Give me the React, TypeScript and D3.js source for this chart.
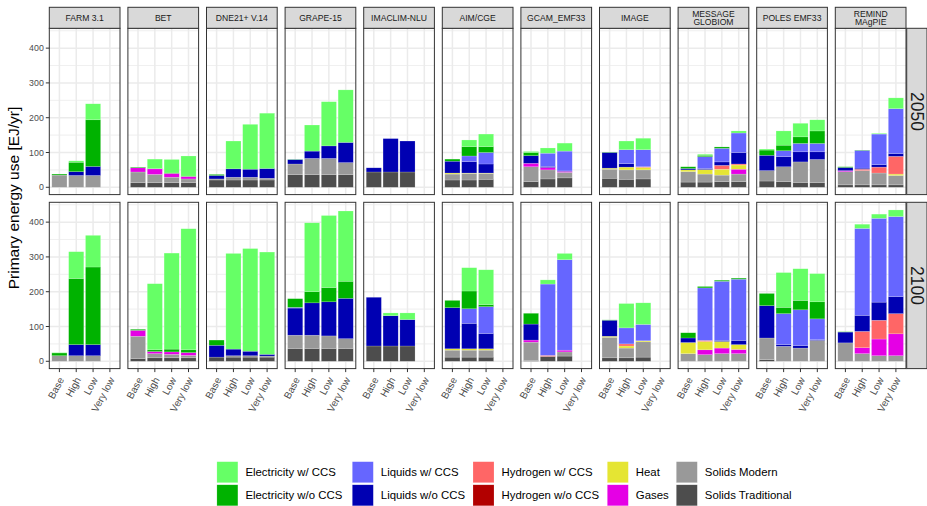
import React from 'react';
import * as d3 from 'd3';

const models = ['FARM 3.1', 'BET', 'DNE21+ V.14', 'GRAPE-15', 'IMACLIM-NLU', 'AIM/CGE', 'GCAM_EMF33', 'IMAGE', 'MESSAGE\nGLOBIOM', 'POLES EMF33', 'REMIND\nMAgPIE'];
const scenarios = ['Base', 'High', 'Low', 'Very low'];
const years = ['2050', '2100'];
const carriers = ['Electricity w/ CCS', 'Electricity w/o CCS', 'Liquids w/ CCS', 'Liquids w/o CCS', 'Hydrogen w/ CCS', 'Hydrogen w/o CCS', 'Heat', 'Gases', 'Solids Modern', 'Solids Traditional'];
const carrierColors = ['#66FF66', '#00B200', '#6666FF', '#0000B2', '#FF6666', '#B20000', '#E5E533', '#E500E5', '#999999', '#4D4D4D'];
const yTicks = [0, 100, 200, 300, 400];
const yMinor = [50, 150, 250, 350, 450];

// values: 11 models x 4 scenarios (Base, High, Low, Very low), EJ/yr
// ---- 2050 ----
const elecCCS2050 = [0, 4, 46, 0, 0, 27, 39, 58, 0, 80, 129, 159, 1, 75, 127, 151, 0, 0, 0, 0, 0, 19, 36, 0, 3, 15, 23, 0, 0, 25, 33, 0, 0, 3, 0, 6, 3, 41, 39, 32, 0, 0, 2, 31];
const elecNoCCS2050 = [3, 27, 134, 0, 2, 1, 1, 1, 3, 0, 0, 0, 0, 0, 0, 0, 0, 0, 0, 0, 6, 27, 17, 0, 9, 0, 0, 0, 1, 0, 0, 0, 5, 4, 4, 0, 15, 16, 19, 36, 2, 1, 0, 0];
const liqCCS2050 = [0, 0, 0, 0, 0, 0, 0, 0, 0, 0, 0, 0, 0, 0, 0, 0, 0, 0, 0, 0, 0, 16, 33, 0, 0, 38, 57, 0, 0, 40, 49, 0, 0, 34, 39, 56, 0, 17, 24, 24, 0, 51, 88, 129];
const liqNoCCS2050 = [0, 11, 26, 0, 0, 0, 0, 0, 10, 24, 23, 28, 13, 21, 36, 58, 12, 96, 89, 0, 34, 33, 26, 0, 22, 3, 1, 0, 45, 10, 0, 0, 4, 3, 10, 33, 44, 29, 29, 22, 9, 3, 7, 8];
const h2CCS2050 = [0, 0, 0, 0, 0, 0, 0, 0, 0, 0, 0, 0, 0, 0, 0, 0, 0, 0, 0, 0, 0, 0, 0, 0, 0, 0, 0, 0, 0, 0, 2, 0, 0, 0, 11, 3, 0, 0, 0, 0, 0, 4, 17, 51];
const h2NoCCS2050 = [0, 0, 0, 0, 0, 0, 0, 0, 0, 0, 0, 0, 0, 0, 0, 0, 0, 0, 0, 0, 0, 0, 0, 0, 0, 0, 0, 0, 0, 0, 0, 0, 0, 0, 0, 0, 0, 0, 0, 0, 0, 0, 0, 0];
const heat2050 = [0, 0, 0, 0, 0, 0, 0, 0, 0, 0, 0, 0, 0, 0, 0, 0, 0, 0, 0, 0, 3, 1, 1, 0, 0, 0, 0, 0, 3, 8, 7, 0, 5, 13, 17, 12, 0, 0, 0, 0, 0, 0, 0, 4];
const gases2050 = [0, 0, 0, 0, 12, 16, 11, 7, 0, 0, 0, 0, 0, 0, 0, 0, 0, 0, 0, 0, 0, 0, 0, 0, 10, 7, 3, 0, 0, 0, 0, 0, 0, 0, 0, 14, 0, 0, 0, 0, 3, 0, 0, 0];
const solidsMod2050 = [35, 34, 34, 0, 31, 24, 16, 11, 3, 8, 8, 5, 31, 47, 47, 35, 0, 0, 0, 0, 17, 19, 17, 0, 43, 26, 16, 0, 26, 27, 26, 0, 30, 23, 19, 22, 30, 43, 59, 67, 38, 41, 34, 27];
const solidsTrad2050 = [0, 0, 0, 0, 13, 13, 13, 13, 21, 21, 21, 21, 36, 36, 36, 36, 44, 44, 44, 0, 21, 21, 23, 0, 16, 24, 27, 0, 26, 23, 24, 0, 15, 15, 16, 16, 18, 16, 14, 13, 7, 7, 7, 7];
// ---- 2100 ----
const elecCCS2100 = [1, 77, 91, 0, 0, 190, 276, 348, 0, 275, 295, 294, 0, 198, 207, 202, 0, 8, 19, 0, 0, 67, 100, 0, 0, 12, 18, 0, 0, 70, 62, 0, 0, 0, 0, 0, 0, 100, 91, 81, 0, 12, 12, 19];
const elecNoCCS2100 = [8, 190, 223, 0, 3, 5, 8, 8, 15, 0, 0, 0, 25, 32, 41, 49, 0, 0, 0, 0, 21, 51, 6, 0, 31, 0, 0, 0, 1, 0, 0, 0, 15, 4, 3, 3, 35, 18, 27, 49, 1, 0, 0, 0];
const liqCCS2100 = [0, 0, 0, 0, 0, 0, 0, 0, 0, 0, 0, 0, 2, 0, 0, 0, 0, 0, 0, 0, 0, 42, 77, 0, 0, 205, 260, 0, 0, 46, 47, 0, 0, 151, 170, 176, 0, 89, 103, 60, 0, 250, 241, 230];
const liqNoCCS2100 = [0, 32, 32, 0, 0, 0, 0, 0, 34, 19, 13, 5, 78, 93, 98, 116, 140, 87, 76, 0, 118, 73, 44, 0, 46, 0, 0, 0, 46, 0, 0, 0, 13, 0, 3, 12, 93, 5, 7, 2, 31, 46, 52, 49];
const h2CCS2100 = [0, 0, 0, 0, 0, 0, 0, 0, 0, 0, 0, 0, 0, 0, 0, 0, 0, 0, 0, 0, 0, 0, 0, 0, 0, 3, 0, 0, 0, 6, 0, 0, 0, 3, 0, 0, 0, 0, 0, 0, 0, 47, 54, 58];
const h2NoCCS2100 = [0, 0, 0, 0, 0, 0, 0, 0, 0, 0, 0, 0, 0, 0, 0, 0, 0, 0, 0, 0, 0, 0, 0, 0, 0, 0, 0, 0, 0, 0, 0, 0, 0, 0, 0, 0, 0, 0, 0, 0, 0, 0, 0, 0];
const heat2100 = [0, 0, 0, 0, 0, 0, 0, 0, 0, 0, 0, 0, 0, 0, 0, 0, 0, 0, 0, 0, 4, 4, 4, 0, 0, 0, 0, 0, 3, 6, 3, 0, 32, 24, 19, 14, 0, 0, 0, 0, 0, 0, 0, 0];
const gases2100 = [0, 0, 0, 0, 17, 6, 7, 8, 0, 0, 0, 0, 0, 0, 0, 0, 0, 0, 0, 0, 0, 0, 0, 0, 6, 0, 5, 0, 0, 0, 0, 0, 0, 14, 16, 12, 0, 0, 0, 0, 0, 17, 48, 63];
const solidsMod2100 = [16, 16, 16, 0, 64, 12, 10, 7, 0, 4, 4, 3, 38, 38, 36, 28, 0, 0, 0, 0, 20, 20, 20, 0, 53, 0, 12, 0, 59, 28, 44, 0, 22, 19, 22, 22, 62, 43, 38, 60, 53, 22, 16, 16];
const solidsTrad2100 = [0, 0, 0, 0, 8, 10, 10, 10, 12, 12, 12, 12, 37, 37, 37, 37, 44, 44, 44, 0, 12, 12, 12, 0, 2, 14, 15, 0, 10, 10, 12, 0, 0, 0, 0, 0, 5, 0, 0, 0, 0, 0, 0, 0];

const seriesByYear: Record<string, number[][]> = {
  '2050': [elecCCS2050, elecNoCCS2050, liqCCS2050, liqNoCCS2050, h2CCS2050, h2NoCCS2050, heat2050, gases2050, solidsMod2050, solidsTrad2050],
  '2100': [elecCCS2100, elecNoCCS2100, liqCCS2100, liqNoCCS2100, h2CCS2100, h2NoCCS2100, heat2100, gases2100, solidsMod2100, solidsTrad2100],
};

const FONT = '"Liberation Sans", Arial, Helvetica, sans-serif';

export default function App() {
  const W = 927, H = 506;
  const panelX0 = 49.3, panelW = 70.7, panelStep = 78.6;
  const stripTop = 7.3, stripH = 21;
  const rowTop = [28.3, 202.3];
  const panelH = 166.3;
  const rightStripX = 906.7, rightStripW = 20.3;

  const x = d3.scaleBand<string>().domain(scenarios).range([0, panelW]).paddingInner(0.1).paddingOuter(0.15);
  const yScales = rowTop.map(t => d3.scaleLinear().domain([-21, 457]).range([t + panelH, t]));
  const stackKeys = [...carriers].reverse();
  const colorOf = d3.scaleOrdinal<string, string>().domain(carriers).range(carrierColors);

  const stacked = years.map(yr => {
    const vals = seriesByYear[yr];
    const rows = models.flatMap((m, mi) => scenarios.map((s, si) => {
      const r: any = { mi, scenario: s };
      carriers.forEach((c, ci) => { r[c] = vals[ci][mi * 4 + si]; });
      return r;
    }));
    return d3.stack<any>().keys(stackKeys)(rows);
  });

  const legendCols = [216.9, 352.3, 473, 607.3, 676.3];
  const legendRows = [461.7, 484.8];
  const keySize = 21;

  return (
    <svg width={W} height={H} style={{ position: 'absolute', left: 0, top: 0, background: '#fff' }} fontFamily={FONT}>
      <rect x={0} y={0} width={W} height={H} fill="#fff" />
      {/* y axis title */}
      <text transform={`translate(13,198) rotate(-90)`} textAnchor="middle" dominantBaseline="central" fontSize={15.5} fill="#000">Primary energy use [EJ/yr]</text>

      {years.map((yr, ri) => {
        const y = yScales[ri];
        const top = rowTop[ri];
        return (
          <g key={yr}>
            {models.map((m, mi) => {
              const px = panelX0 + mi * panelStep;
              return (
                <g key={m}>
                  <rect x={px} y={top} width={panelW} height={panelH} fill="#fff" />
                  {yMinor.map(v => (
                    <line key={'mn' + v} x1={px} x2={px + panelW} y1={y(v)} y2={y(v)} stroke="#EBEBEB" strokeWidth={0.8} />
                  ))}
                  {yTicks.map(v => (
                    <line key={'mj' + v} x1={px} x2={px + panelW} y1={y(v)} y2={y(v)} stroke="#EBEBEB" strokeWidth={1.5} />
                  ))}
                  {scenarios.map(s => {
                    const cx = px + (x(s) as number) + x.bandwidth() / 2;
                    return <line key={'vx' + s} x1={cx} x2={cx} y1={top} y2={top + panelH} stroke="#EBEBEB" strokeWidth={1.5} />;
                  })}
                </g>
              );
            })}
            {stacked[ri].map(series => (
              <g key={series.key} fill={colorOf(series.key)}>
                {series.filter(d => d[1] - d[0] > 0).map((d, i) => {
                  const px = panelX0 + d.data.mi * panelStep;
                  return (
                    <rect key={i} x={px + (x(d.data.scenario) as number)} width={x.bandwidth()}
                      y={y(d[1])} height={y(d[0]) - y(d[1])}
                      stroke="#ffffff" strokeOpacity={0.35} strokeWidth={0.5} />
                  );
                })}
              </g>
            ))}
            {models.map((m, mi) => {
              const px = panelX0 + mi * panelStep;
              return <rect key={'b' + m} x={px} y={top} width={panelW} height={panelH} fill="none" stroke="#333333" strokeWidth={1} />;
            })}
            {/* right strip */}
            <rect x={rightStripX} y={top} width={rightStripW} height={panelH} fill="#D9D9D9" stroke="#333333" strokeWidth={1} />
            <text transform={`translate(${rightStripX + rightStripW / 2},${top + panelH / 2}) rotate(90)`} textAnchor="middle" dominantBaseline="central" fontSize={17.5} fill="#1A1A1A">{yr}</text>
            {/* y axis */}
            {yTicks.map(v => (
              <g key={'yt' + v}>
                <line x1={panelX0 - 3.5} x2={panelX0} y1={y(v)} y2={y(v)} stroke="#333333" strokeWidth={1} />
                <text x={panelX0 - 5.5} y={y(v)} textAnchor="end" dominantBaseline="central" fontSize={8.8} fill="#4D4D4D">{v}</text>
              </g>
            ))}
          </g>
        );
      })}

      {/* top strips */}
      {models.map((m, mi) => {
        const px = panelX0 + mi * panelStep;
        const lines = m.split('\n');
        return (
          <g key={'s' + m}>
            <rect x={px} y={stripTop} width={panelW} height={stripH} fill="#D9D9D9" stroke="#333333" strokeWidth={1} />
            {lines.map((ln, li) => (
              <text key={li} x={px + panelW / 2} y={stripTop + stripH / 2 + (li - (lines.length - 1) / 2) * 8.6}
                textAnchor="middle" dominantBaseline="central" fontSize={8.6} fill="#1A1A1A">{ln}</text>
            ))}
          </g>
        );
      })}

      {/* x axis (bottom row) */}
      {models.map((m, mi) => {
        const px = panelX0 + mi * panelStep;
        const bottom = rowTop[1] + panelH;
        return (
          <g key={'xa' + m}>
            {scenarios.map(s => {
              const cx = px + (x(s) as number) + x.bandwidth() / 2;
              return (
                <g key={s}>
                  <line x1={cx} x2={cx} y1={bottom} y2={bottom + 3.5} stroke="#333333" strokeWidth={1} />
                  <text transform={`translate(${cx + 5},${bottom + 11}) rotate(-62)`} textAnchor="end" fontSize={10} fill="#4D4D4D">{s}</text>
                </g>
              );
            })}
          </g>
        );
      })}

      {/* legend */}
      {carriers.map((c, ci) => {
        const col = Math.floor(ci / 2);
        const row = ci % 2;
        const kx = legendCols[col];
        const ky = legendRows[row];
        return (
          <g key={'lg' + c}>
            <rect x={kx} y={ky} width={keySize} height={keySize} fill={colorOf(c)} stroke="#ffffff" strokeOpacity={0.35} strokeWidth={0.5} />
            <text x={kx + keySize + 7.5} y={ky + keySize / 2} dominantBaseline="central" fontSize={11.4} fill="#000">{c}</text>
          </g>
        );
      })}
    </svg>
  );
}
